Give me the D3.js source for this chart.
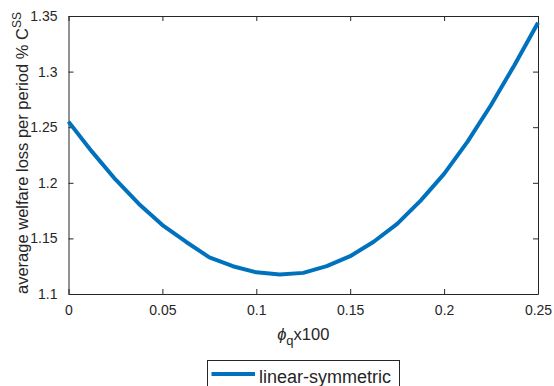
<!DOCTYPE html>
<html>
<head>
<meta charset="utf-8">
<script src="https://cdn.jsdelivr.net/npm/d3@7"></script>
<style>
  html, body { margin: 0; padding: 0; background: #fff; }
  svg { display: block; }
  text { font-family: "Liberation Sans", Arial, Helvetica, sans-serif; fill: #262626; }
</style>
</head>
<body>
<svg id="chart" width="554" height="386"></svg>
<script>
// ---- data ----
const phiValues = [0, 0.0125, 0.025, 0.0375, 0.05, 0.0625, 0.075, 0.0875, 0.1, 0.1125,
                   0.125, 0.1375, 0.15, 0.1625, 0.175, 0.1875, 0.2, 0.2125, 0.225, 0.2375, 0.25];
const welfareLoss = [1.255, 1.228, 1.203, 1.181, 1.162, 1.147, 1.133, 1.125, 1.1195, 1.1175,
                     1.119, 1.125, 1.134, 1.147, 1.163, 1.184, 1.208, 1.237, 1.270, 1.306, 1.344];
const xTicks = [0, 0.05, 0.1, 0.15, 0.2, 0.25];
const xTickLabels = ["0", "0.05", "0.1", "0.15", "0.2", "0.25"];
const yTicks = [1.1, 1.15, 1.2, 1.25, 1.3, 1.35];
const yTickLabels = ["1.1", "1.15", "1.2", "1.25", "1.3", "1.35"];
const seriesName = "linear-symmetric";

// ---- layout ----
const L = 68.5, R = 538, T = 16, B = 294;
const svg = d3.select("#chart");
const x = d3.scaleLinear().domain([0, 0.25]).range([L, R]);
const y = d3.scaleLinear().domain([1.1, 1.35]).range([B, T]);
const axisColor = "#262626";
const tickLen = 5;

// axes via d3 axis generators (inward ticks)
const fmtX = (d) => xTickLabels[xTicks.indexOf(d)];
const fmtY = (d) => yTickLabels[yTicks.indexOf(d)];

const gx = svg.append("g").attr("transform", `translate(0,${B})`)
  .call(d3.axisBottom(x).tickValues(xTicks).tickFormat(fmtX).tickSizeInner(-tickLen).tickSizeOuter(0).tickPadding(11));
const gxTop = svg.append("g").attr("transform", `translate(0,${T})`)
  .call(d3.axisTop(x).tickValues(xTicks).tickFormat("").tickSizeInner(-tickLen).tickSizeOuter(0));
const gy = svg.append("g").attr("transform", `translate(${L},0)`)
  .call(d3.axisLeft(y).tickValues(yTicks).tickFormat(fmtY).tickSizeInner(-tickLen).tickSizeOuter(0).tickPadding(11));
const gyR = svg.append("g").attr("transform", `translate(${R},0)`)
  .call(d3.axisRight(y).tickValues(yTicks).tickFormat("").tickSizeInner(-tickLen).tickSizeOuter(0));

[gx, gxTop, gy, gyR].forEach(g => {
  g.selectAll(".domain").attr("stroke", axisColor).attr("stroke-width", 1);
  g.selectAll(".tick line").attr("stroke", axisColor).attr("stroke-width", 1);
  g.selectAll(".tick text").attr("fill", axisColor)
    .style("font-family", '"Liberation Sans", Arial, Helvetica, sans-serif')
    .style("font-size", "14px");
});

// line
const line = d3.line().x((d, i) => x(phiValues[i])).y(d => y(d));
svg.append("path")
  .datum(welfareLoss)
  .attr("d", line)
  .attr("fill", "none")
  .attr("stroke", "#0072BD")
  .attr("stroke-width", 4)
  .attr("stroke-linejoin", "round");

// x label
const xl = svg.append("text")
  .attr("x", (L + R) / 2).attr("y", 339.5)
  .attr("text-anchor", "middle")
  .style("font-size", "16.5px");
xl.append("tspan").text("ϕ").style("font-style", "italic");
xl.append("tspan").text("q").attr("dy", 5).style("font-size", "13px");
xl.append("tspan").text("x100").attr("dy", -5);

// y label
const yl = svg.append("text")
  .attr("transform", `translate(27.5,${(T + B) / 2 - 2}) rotate(-90)`)
  .attr("text-anchor", "middle")
  .style("font-size", "16.5px");
yl.append("tspan").text("average welfare loss per period % C");
yl.append("tspan").text("SS").attr("dy", -7).style("font-size", "12px");

// legend
const lg = svg.append("g");
lg.append("rect")
  .attr("x", 207.5).attr("y", 360.5).attr("width", 192).attr("height", 40)
  .attr("fill", "#fff").attr("stroke", axisColor).attr("stroke-width", 1);
lg.append("line")
  .attr("x1", 211.5).attr("x2", 255).attr("y1", 374).attr("y2", 374)
  .attr("stroke", "#0072BD").attr("stroke-width", 4);
lg.append("text")
  .attr("x", 259).attr("y", 382.5)
  .style("font-size", "18px")
  .text(seriesName);
</script>
</body>
</html>
